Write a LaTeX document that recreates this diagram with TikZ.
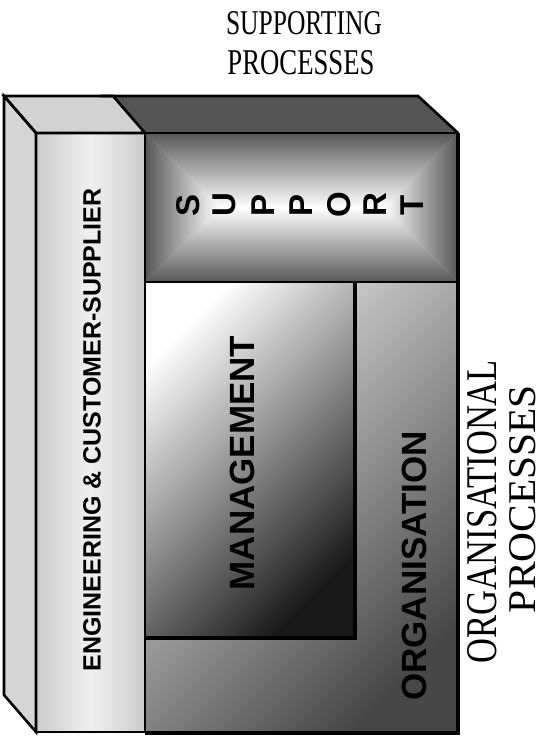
\documentclass[tikz,border=0pt]{standalone}
\usepackage{graphicx}
\usepackage{fontspec}
\setmainfont{Liberation Serif}
\setsansfont{Liberation Sans}
\begin{document}
\begin{tikzpicture}[x=1pt,y=1pt,
  edge/.style={draw=black, line width=2.6pt, line join=miter},
  boldlabel/.style={inner sep=0pt, rotate=90, text=black},
  serlabel/.style={inner sep=0pt, anchor=base},
]
\useasboundingbox (0,0) rectangle (543,742);
% ---- support top face (dark)
\fill[black!67] (100,646) -- (418,646) -- (458,609) -- (145,609) -- cycle;
% ---- organisation block
\shade[top color=gray!22, bottom color=black!72, shading angle=45] (145,10) rectangle (458,460);
% ---- management block
\shade[top color=white, bottom color=black!90, shading angle=45] (145,104) rectangle (355,460);
% ---- support front face (pillow shading)
\shade[top color=black!66, bottom color=white] (145,609) -- (458,609) -- (383.5,534.3) -- (219.5,534.3) -- cycle;
\shade[top color=white, bottom color=black!66] (145,460) -- (458,460) -- (383.5,534.7) -- (219.5,534.7) -- cycle;
\shade[left color=black!66, right color=white] (145,609) -- (219.8,534.5) -- (145,460) -- cycle;
\shade[left color=white, right color=black!66] (458,609) -- (383.2,534.5) -- (458,460) -- cycle;
% ---- left slab
\fill[gray!33] (4,646) -- (36,609) -- (36,10) -- (4,47) -- cycle;
\fill[gray!35] (4,646) -- (113,646) -- (145,609) -- (36,609) -- cycle;
\shade[left color=gray!40, right color=gray!40, middle color=gray!12] (36,10) rectangle (145,609);
% ---- outlines
\draw[edge] (100,646) -- (418,646) -- (458,609);
\draw[edge] (4,646) -- (36,609) -- (36,10) -- (4,47) -- cycle;
\draw[edge] (4,646) -- (113,646) -- (145,609) -- (36,609) -- cycle;
\draw[edge] (36,10) rectangle (145,609);
\draw[edge] (145,609) -- (458,609) -- (458,460) -- (145,460);
\draw[edge] (145,460) rectangle (458,10);
\draw[edge] (145,460) rectangle (355,104);
\draw[line width=4pt] (355,460) -- (355,104) -- (145,104);
\draw[line width=3.4pt] (458,609) -- (458,8.3) -- (145,8.3);
% ---- bold labels
\node[boldlabel, font=\sffamily\bfseries\fontsize{25}{25}\selectfont] (eng) at (92,312) {ENGINEERING \& CUSTOMER-SUPPLIER};
\node[boldlabel, font=\sffamily\bfseries\fontsize{35}{35}\selectfont] (mgmt) at (242,279) {MANAGEMENT};
\node[boldlabel, font=\sffamily\bfseries\fontsize{35}{35}\selectfont] (org) at (414,176) {ORGANISATION};
\foreach \ch/\xx [count=\i] in {S/188,U/224,P/263,P/301,O/339,R/375,T/412}
  \node[boldlabel, font=\sffamily\bfseries\fontsize{33}{33}\selectfont] (sup\i) at (\xx,537) {\ch};
% ---- serif captions
\node[serlabel] (capA) at (304,707) {\resizebox{156pt}{23pt}{SUPPORTING}};
\node[serlabel] (capB) at (301,667) {\resizebox{147pt}{24pt}{PROCESSES}};
\node[serlabel, rotate=90] (capC) at (496,230.5) {\resizebox{303pt}{29pt}{ORGANISATIONAL}};
\node[serlabel, rotate=90] (capD) at (535,243) {\resizebox{228pt}{26pt}{PROCESSES}};
\end{tikzpicture}
\end{document}
